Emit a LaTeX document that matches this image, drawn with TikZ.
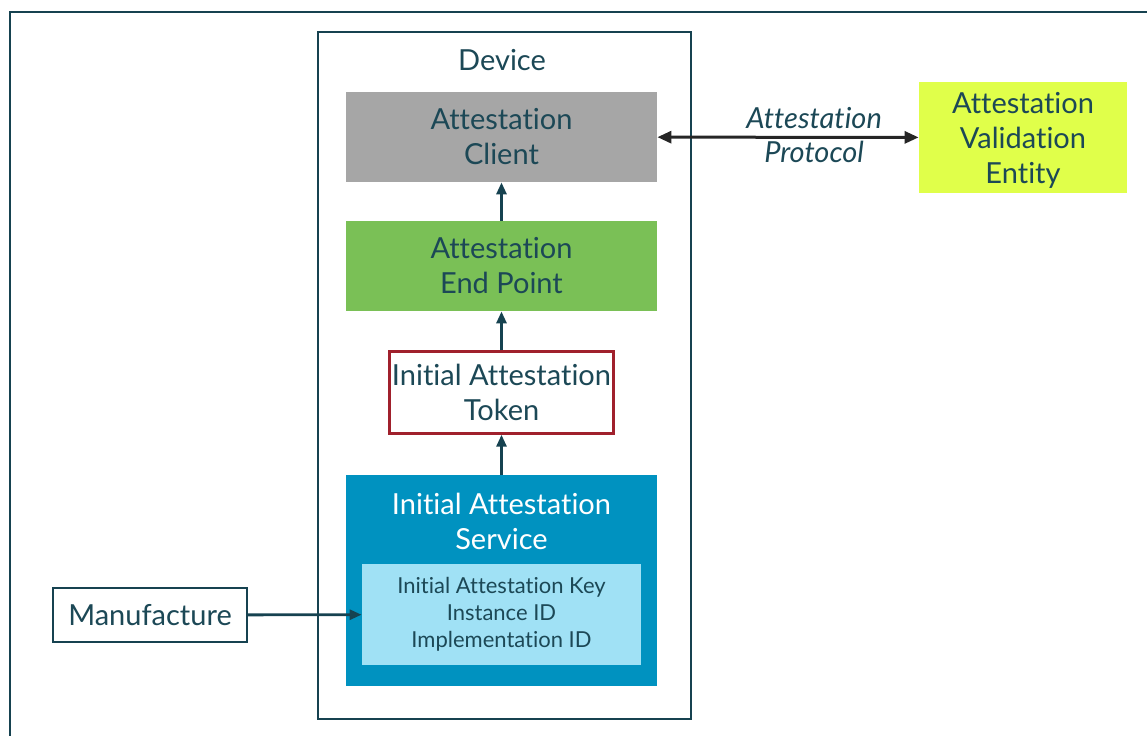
\documentclass[tikz,border=0pt]{standalone}
\usepackage{fontspec}
\setmainfont{Lato}[Ligatures={NoCommon,NoRare}]
\usetikzlibrary{arrows.meta}

\definecolor{inkc}{RGB}{28,72,86}
\definecolor{framec}{RGB}{22,66,80}
\definecolor{greyc}{RGB}{166,166,166}
\definecolor{greenc}{RGB}{122,192,86}
\definecolor{redc}{RGB}{160,32,44}
\definecolor{bluec}{RGB}{0,146,192}
\definecolor{paleb}{RGB}{160,225,245}
\definecolor{limec}{RGB}{224,255,74}

\tikzset{
  blk/.style={inner sep=0pt, align=center, text=inkc, font=\fontsize{14.5}{17.5}\selectfont},
  flow/.style={-{Triangle[length=6pt,width=5pt]}, line width=1.4pt, draw=framec},
}

\begin{document}
\begin{tikzpicture}[x=0.5pt,y=-0.5pt]
  \useasboundingbox (0,0) rectangle (1147,735);
  \draw[framec,line width=1.2pt] (10,760) |- (1170,12);
  \node[draw=framec,line width=1pt,minimum width=186.5pt,minimum height=343.5pt] (device) at (504.5,375.5) {};
  \node[blk] (devlbl) at (502,60) {Device};
  \node[blk,fill=greyc,minimum width=155.5pt,minimum height=45pt] (client) at (501.5,137) {Attestation\\Client};
  \node[blk,fill=greenc,minimum width=155.5pt,minimum height=45pt] (endpt) at (501.5,266) {Attestation\\End Point};
  \node[blk,draw=redc,line width=1.2pt,fill=white,minimum width=112pt,minimum height=41pt] (token) at (501.5,392.5) {Initial Attestation\\Token};
  \node[blk,fill=bluec,minimum width=155.5pt,minimum height=105.5pt] (service) at (501.5,580.5) {};
  \node[blk,text=white] (svclbl) at (501.5,521) {Initial Attestation\\Service};
  \node[blk,fill=paleb,minimum width=139.5pt,minimum height=50.5pt,font=\fontsize{11}{13.5}\selectfont] (keys) at (501.5,614.5) {Initial Attestation Key\\Instance ID\\Implementation ID};
  \node[blk,draw=framec,line width=1pt,fill=white,minimum width=97pt,minimum height=27pt] (manuf) at (150,615) {Manufacture};
  \node[blk,fill=limec,minimum width=104pt,minimum height=55.5pt,text depth=-4pt] (ave) at (1023,137.5) {Attestation\\Validation\\Entity};
  % connectors
  \draw[flow] (endpt) -- (client);
  \draw[flow] (token) -- (endpt);
  \draw[flow] (service) -- (token);
  \draw[flow] (manuf) -- (keys);
  \draw[{Triangle[length=7pt,width=6pt]}-{Triangle[length=7pt,width=6pt]},line width=1.5pt,draw=black!85] (client) -- (ave)
    node[pos=0.6,above,blk,font=\fontsize{14.5}{17.5}\itshape,yshift=3.5pt] {Attestation}
    node[pos=0.6,below,blk,font=\fontsize{14.5}{17.5}\itshape,yshift=-1pt] {Protocol};
\end{tikzpicture}
\end{document}
